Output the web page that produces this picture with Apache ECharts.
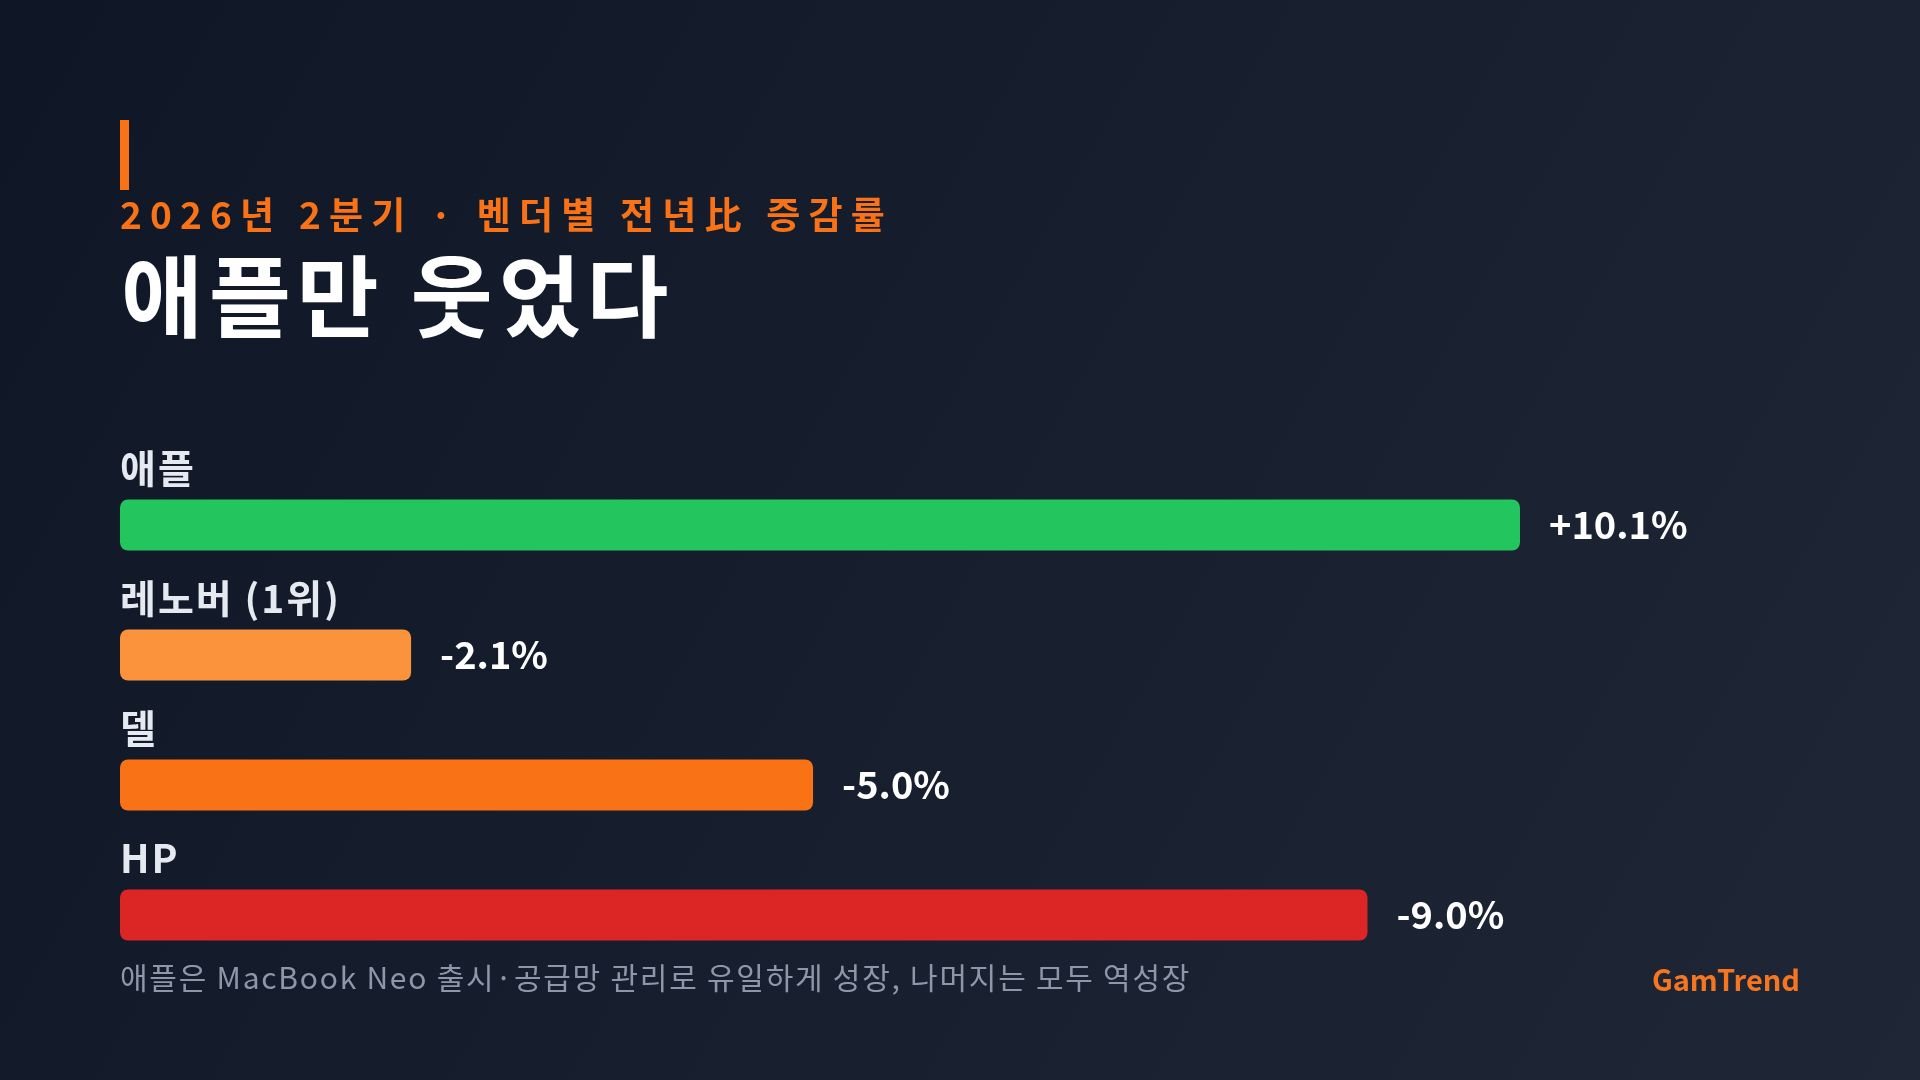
<!DOCTYPE html>
<html>
<head>
<meta charset="utf-8">
<script src="https://cdn.jsdelivr.net/npm/echarts@6/dist/echarts.min.js"></script>
<style>
html,body{margin:0;padding:0;width:1920px;height:1080px;overflow:hidden;background:#141b2b;}
#chart{width:1920px;height:1080px;}
</style>
</head>
<body>
<div id="chart"></div>
<script>
// ---- data ----
const vendors = ['애플', '레노버 (1위)', '델', 'HP'];
const yoyChange = [10.1, -2.1, -5.0, -9.0];
const barColors = ['#22c55e', '#fb923c', '#f97316', '#dc2626'];
const subtitleText = '2026년 2분기 · 벤더별 전년比 증감률';
const titleText = '애플만 웃었다';
const noteText = '애플은 MacBook Neo 출시·공급망 관리로 유일하게 성장, 나머지는 모두 역성장';
const brandText = 'GamTrend';

const FONT = '"Noto Sans CJK KR", "Noto Sans", sans-serif';
const fmt = v => (v > 0 ? '+' : '') + v.toFixed(1) + '%';
// wrap every character in a rich token so a small letter spacing can be applied
const spaced = (str, key) => str.split('').map(c => '{' + key + '|' + c + '}').join('');

const chart = echarts.init(document.getElementById('chart'));

chart.setOption({
  backgroundColor: {
    type: 'linear', x: 0, y: 0, x2: 1, y2: 1,
    colorStops: [{offset: 0, color: '#0f1726'}, {offset: 1, color: '#1f2635'}]
  },
  textStyle: {fontFamily: FONT},
  title: [
    {
      text: spaced(subtitleText, 's'), left: 120, top: 196, padding: 0,
      textStyle: {
        rich: {s: {fontSize: 37, fontWeight: 'bold', color: '#f97316', fontFamily: FONT, padding: [0, 8.2, 0, 0]}}
      }
    },
    {
      text: spaced(titleText, 't'), left: 121, top: 252, padding: 0,
      textStyle: {
        rich: {t: {fontSize: 89, fontWeight: 'bold', color: '#ffffff', fontFamily: FONT, padding: [0, 6, 0, 0]}}
      }
    },
    {
      text: spaced(noteText, 'n'), left: 120, top: 963, padding: 0,
      textStyle: {
        fontWeight: 'normal',
        rich: {n: {fontSize: 30, fontWeight: 'normal', color: '#8d97a8', fontFamily: FONT, padding: [0, 1.75, 0, 0]}}
      }
    },
    {
      text: brandText, right: 120, top: 965, padding: 0,
      textStyle: {fontSize: 29, fontWeight: 'bold', color: '#f5761f', fontFamily: FONT}
    }
  ],
  graphic: [
    {type: 'rect', left: 120, top: 120, shape: {width: 9, height: 70}, style: {fill: '#f97316'}}
  ],
  grid: {left: 120, right: 400, top: 460, bottom: 100},
  xAxis: {
    type: 'value', min: 0, max: 10.1, show: false
  },
  yAxis: {
    type: 'category', inverse: true, data: vendors,
    axisLine: {show: false}, axisTick: {show: false}, splitLine: {show: false},
    axisLabel: {
      inside: true, margin: 0, align: 'left', verticalAlign: 'bottom',
      padding: [0, 0, 37, 0], lineHeight: 40,
      formatter: v => spaced(v, 'c'),
      rich: {c: {fontSize: 39, fontWeight: 'bold', color: '#e5e9f0', fontFamily: FONT, lineHeight: 40, padding: [0, 2, 0, 0]}}
    }
  },
  series: [{
    type: 'bar',
    barWidth: 51,
    data: yoyChange.map((v, i) => ({
      value: Math.abs(v),
      itemStyle: {color: barColors[i], borderRadius: 8}
    })),
    label: {
      show: true, position: 'right', distance: 29,
      formatter: p => fmt(yoyChange[p.dataIndex]),
      fontSize: 38, fontWeight: 'bold', color: '#ffffff', fontFamily: FONT
    },
    animation: false
  }],
  animation: false
});
</script>
</body>
</html>
